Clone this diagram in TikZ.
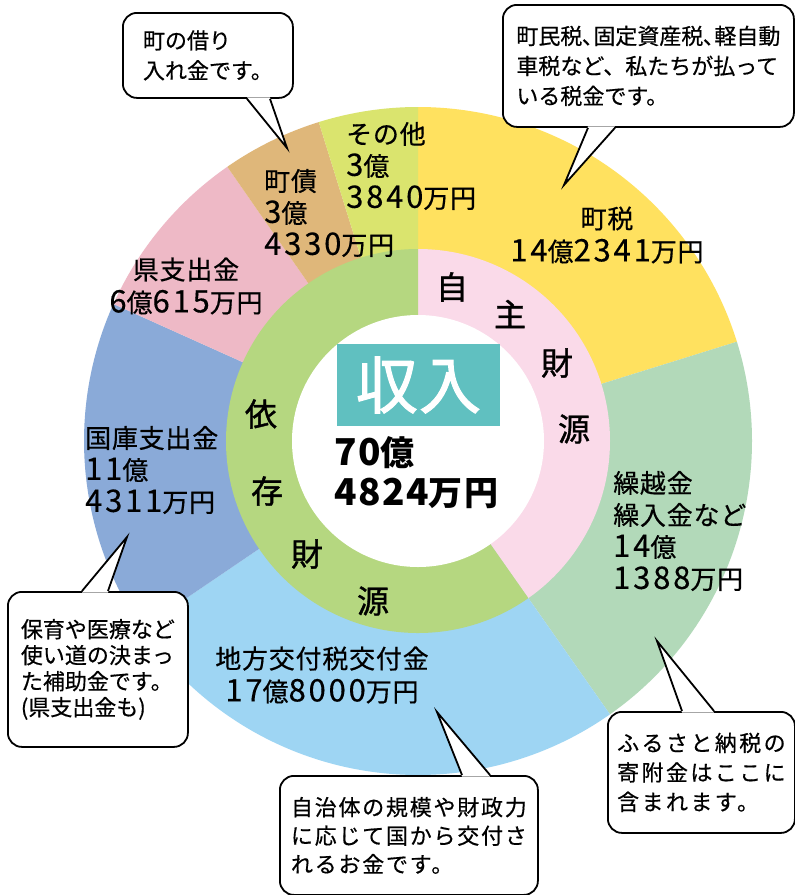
\documentclass[tikz,border=0pt]{standalone}
\usepackage{fontspec}
\setmainfont{Noto Sans CJK JP}
\newfontfamily\jpA{Noto Sans CJK JP}[FakeBold=0.5]
\newfontfamily\jpL{Noto Sans CJK JP}[LetterSpace=3, FakeBold=0.5]
\newfontfamily\jpDg{Noto Sans CJK JP}[LetterSpace=9, FakeBold=0.3]
\newfontfamily\jpD{Noto Sans CJK JP}[LetterSpace=11, FakeBold=0.5]
\newfontfamily\jpE{Noto Sans CJK JP}[LetterSpace=8, FakeBold=0.5]
\newfontfamily\jpC{Noto Sans CJK JP}[LetterSpace=4]
\newfontfamily\jpT{Noto Sans CJK JP}[LetterSpace=2, FakeBold=1.6]
\newfontfamily\jpR{Noto Sans CJK JP}[FakeBold=1.2]
\newcommand\dgL[1]{{\jpDg\fontsize{31}{32}\selectfont #1}}
\newcommand\dgT[1]{{\jpC\bfseries\fontsize{37}{40}\selectfont #1}}
\usetikzlibrary{calc}
\definecolor{cTax}{HTML}{FFE15F}
\definecolor{cKuri}{HTML}{B2D9B9}
\definecolor{cChiho}{HTML}{9ED5F3}
\definecolor{cKoku}{HTML}{8AAAD8}
\definecolor{cKen}{HTML}{EEB9C6}
\definecolor{cSai}{HTML}{DFB77A}
\definecolor{cOther}{HTML}{DAE46E}
\definecolor{cInPink}{HTML}{FADAE9}
\definecolor{cInGreen}{HTML}{B5D780}
\definecolor{cTeal}{HTML}{60C0C0}
\begin{document}
\begin{tikzpicture}[x=1pt,y=-1pt,
  lbl/.style={font=\jpL\fontsize{26}{32}\selectfont, align=left, inner sep=0pt, anchor=west},
  lblc/.style={font=\jpL\fontsize{26}{33}\selectfont, align=center, inner sep=0pt},
  ringch/.style={font=\jpR\fontsize{32}{32}\selectfont, inner sep=0pt},
  callbox/.style={draw=black, line width=1.8pt, fill=white, rounded corners=14pt,
    anchor=north west, align=left, inner sep=0pt},
  tailline/.style={draw=black, line width=1.8pt, line join=miter},
]
\useasboundingbox (0,0) rectangle (795,895);
\fill[white] (0,0) rectangle (795,895);
\coordinate (C) at (418,441);
% outer ring sectors
\fill[cTax]   (C) -- ++(-90:334)     arc[start angle=-90,     end angle=-17.297, radius=334] -- cycle;
\fill[cKuri]  (C) -- ++(-17.297:334) arc[start angle=-17.297, end angle=54.919,  radius=334] -- cycle;
\fill[cChiho] (C) -- ++(54.919:334)  arc[start angle=54.919,  end angle=145.835, radius=334] -- cycle;
\fill[cKoku]  (C) -- ++(145.835:334) arc[start angle=145.835, end angle=204.221, radius=334] -- cycle;
\fill[cKen]   (C) -- ++(204.221:334) arc[start angle=204.221, end angle=235.181, radius=334] -- cycle;
\fill[cSai]   (C) -- ++(235.181:334) arc[start angle=235.181, end angle=252.716, radius=334] -- cycle;
\fill[cOther] (C) -- ++(252.716:334) arc[start angle=252.716, end angle=270,     radius=334] -- cycle;
% inner ring
\fill[cInPink]  (C) -- ++(-90:192)    arc[start angle=-90,    end angle=54.919, radius=192] -- cycle;
\fill[cInGreen] (C) -- ++(54.919:192) arc[start angle=54.919, end angle=270,    radius=192] -- cycle;
\fill[white] (C) circle[radius=126];

% center
\node[fill=cTeal, minimum width=163pt, minimum height=82pt, inner sep=0pt,
  text=white, font=\jpT\fontsize{62}{62}\selectfont] (title) at (418.5,385) {収入};
\node[font=\jpC\bfseries\fontsize{34}{40}\selectfont, align=left, inner sep=0pt, anchor=west]
  (total) at (334,473) {\dgT{70}億\\\dgT{4824}万円};

% ring characters
\node[ringch] (j1) at (452,287) {自};
\node[ringch] (j2) at (510,314) {主};
\node[ringch] (j3) at (557,363) {財};
\node[ringch] (j4) at (574,429) {源};
\node[ringch] (i1) at (261,414) {依};
\node[ringch] (i2) at (267,491) {存};
\node[ringch] (i3) at (307,554) {財};
\node[ringch] (i4) at (373,601) {源};

% segment labels
\node[lblc] (lTax) at (607,235) {町税\\\dgL{14}億\dgL{2341}万円};
\node[lbl] (lOther) at (346,166) {その他\\\dgL{3}億\\\dgL{3840}万円};
\node[lbl] (lSai) at (264,213) {町債\\\dgL{3}億\\\dgL{4330}万円};
\node[lblc] (lKen) at (186,286) {県支出金\\\dgL{6}億\dgL{615}万円};
\node[lbl] (lKoku) at (85,470) {国庫支出金\\\dgL{11}億\\\dgL{4311}万円};
\node[lblc] (lChiho) at (322,675) {地方交付税交付金\\\dgL{17}億\dgL{8000}万円};
\node[lbl] (lKuri) at (613,531) {繰越金\\繰入金など\\\dgL{14}億\\\dgL{1388}万円};

% callout A
\node[callbox, minimum width=170pt, minimum height=85pt, font=\jpA\fontsize{22}{30}\selectfont]
  (ca) at (122,12) {町の借り\\入れ金です。};
\coordinate (aL) at ([xshift=125pt]ca.south west);
\coordinate (aR) at ([xshift=148pt]ca.south west);
\coordinate (aT) at (287,148);
\fill[white] ($(aL)+(0,-1.5)$) -- (aT) -- ($(aR)+(0,-1.5)$) -- cycle;
\draw[tailline] (aL) -- (aT) -- (aR);

% callout B
\node[callbox, minimum width=291pt, minimum height=122pt, font=\jpA\fontsize{22}{30}\selectfont]
  (cb) at (502,4) {町民税､固定資産税､軽自動\\車税など、私たちが払って\\いる税金です。};
\coordinate (bL) at ([xshift=86pt]cb.south west);
\coordinate (bR) at ([xshift=113pt]cb.south west);
\coordinate (bT) at (564,185);
\fill[white] ($(bL)+(0,-1.5)$) -- (bT) -- ($(bR)+(0,-1.5)$) -- cycle;
\draw[tailline] (bL) -- (bT) -- (bR);

% callout C
\node[callbox, minimum width=180pt, minimum height=155pt, font=\jpA\fontsize{22}{26}\selectfont]
  (cc) at (7,591) {保育や医療など\\使い道の決まっ\\た補助金です。\\(県支出金も)};
\coordinate (cL) at ([xshift=75pt]cc.north west);
\coordinate (cR) at ([xshift=101pt]cc.north west);
\coordinate (cT) at (127,537);
\fill[white] ($(cL)+(0,1.5)$) -- (cT) -- ($(cR)+(0,1.5)$) -- cycle;
\draw[tailline] (cL) -- (cT) -- (cR);

% callout D
\node[callbox, minimum width=187pt, minimum height=121pt, font=\jpD\fontsize{22}{29.5}\selectfont]
  (cd) at (607,711) {ふるさと納税の\\寄附金はここに\\含まれます。};
\coordinate (dL) at ([xshift=75pt]cd.north west);
\coordinate (dR) at ([xshift=107pt]cd.north west);
\coordinate (dT) at (657,641);
\fill[white] ($(dL)+(0,1.5)$) -- (dT) -- ($(dR)+(0,1.5)$) -- cycle;
\draw[tailline] (dL) -- (dT) -- (dR);

% callout E
\node[callbox, minimum width=258pt, minimum height=119pt, font=\jpE\fontsize{22}{28.5}\selectfont]
  (ce) at (279,775) {自治体の規模や財政力\\に応じて国から交付さ\\れるお金です。};
\coordinate (eL) at ([xshift=183pt]ce.north west);
\coordinate (eR) at ([xshift=211pt]ce.north west);
\coordinate (eT) at (437,712);
\fill[white] ($(eL)+(0,1.5)$) -- (eT) -- ($(eR)+(0,1.5)$) -- cycle;
\draw[tailline] (eL) -- (eT) -- (eR);
\end{tikzpicture}
\end{document}
